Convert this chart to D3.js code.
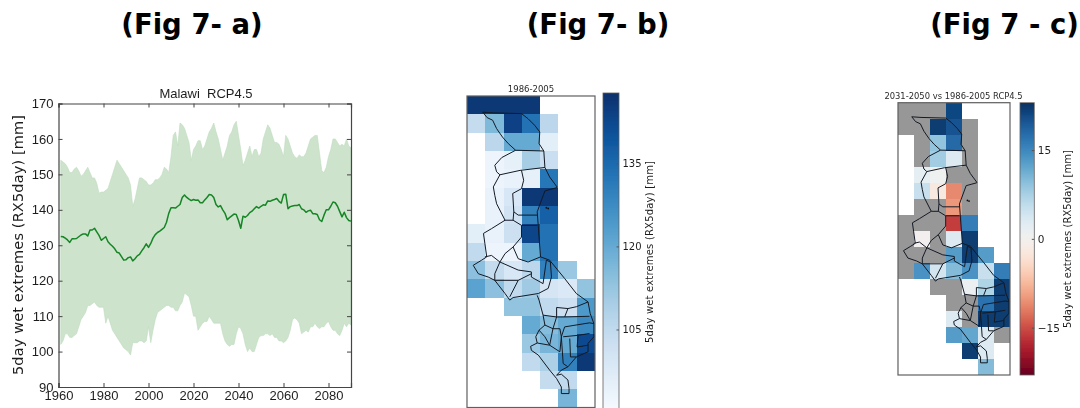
<!DOCTYPE html>
<html>
<head>
<meta charset="utf-8">
<script src="https://cdn.jsdelivr.net/npm/d3@7"></script>
<style>
  html, body { margin: 0; padding: 0; background: #fff; overflow: hidden; }
  svg { display: block; font-family: "DejaVu Sans", sans-serif; }
</style>
</head>
<body>
<div id="chart"></div>
<script>
const figTitles = ["(Fig 7- a)", "(Fig 7- b)", "(Fig 7 - c)"]
const yLabel = "5day wet extremes (RX5day) [mm]"

const years = d3.range(1961, 2091)
const yTicks = [90, 100, 110, 120, 130, 140, 150, 160, 170]
const xTicks = [1960, 1980, 2000, 2020, 2040, 2060, 2080]

const upper = [
  154,153.5,153,152,150.5,150.5,151.5,152,151,149.5,
  150,151,152,150.5,149,149,147.5,144.7,145,145,
  145.5,146,148,150,152,154,153,152,151,150,
  149,147,141,143,146,149,149,148.5,148,147,
  147,147.5,148.5,148.5,149,150,152,151.5,150.5,155,
  161,162,158,164.5,164,163,161,159,154,157,
  158,159.5,159.5,157,158,160,162,163,164.5,162,
  160,157,154,156,158,161,162,164,165,161,
  157,152.5,154,156,158,155,157,157,155,156,
  160,162,164,163,161,159,159,158.5,157,155,
  161,160,158,156,155,154.5,155.5,155,155,156,
  158,160,160.5,161,161,156,151,150.5,152,155,
  157,160,160,159,158,158.5,158,160,158,157.5
]
const lower = [
  102,103,105,105,104,104,104.5,105,107,109,
  110,111,113,113,113.5,114,113,112.5,112.5,112.5,
  108,110,108,106,105,104,103,102,101,100.5,
  100,99,102.5,102.5,102.5,103,103,102.5,103,107,
  102.5,106,109,111,111.5,112,112.5,113,113,112.5,
  112.5,111.5,111.5,113,114,116.5,116,115.5,113,110,
  110,106,107,108,108.5,108.5,110,109,108,108,
  108,108,105,103,102,101.5,102,102,105,107,
  106.5,105,102,100,101,100,100,102,104,104.5,
  104.5,105,105,104.5,105,104,104,103,103,102.5,
  103,104,106,109,109.5,109,108,105,105.5,106,
  105.5,107,107,108,107,106.5,107,107,108,108.5,
  107,106,106,105,104.5,106,108,107,108,107.5
]
const meanLine = [
  132.5,132.4,132,131.5,130.8,131.8,131.8,131.9,132.4,132.9,
  133.2,133.2,132.6,134.3,134.3,134.8,133.8,132.8,131.4,131.9,
  132.4,131,130.3,129.7,129,128,127.8,126.8,125.8,125.9,
  126.5,126.7,125.6,126.2,127,127.4,128.4,129.3,130.4,129.4,
  130.5,132,133,133.6,134,134.5,135,136.5,139,140.6,
  140.6,140.5,141,141.5,143.5,144.2,143.5,143,142.6,142.9,
  142.7,142.8,142,142,142.8,143.5,144.3,144.2,143.5,141.5,
  140.8,141.2,140,139,137.2,137.8,138.3,138.8,138.7,137,
  134.8,138.2,137.9,138.4,139.2,139.6,140.3,140.9,140.5,141,
  141.4,141.3,142.5,142.4,142.7,142.9,143.2,142.4,141.9,144.3,
  144.4,140.3,140.9,141.1,141.2,141.2,141.5,140.3,140,139.3,
  139.7,139.9,138.9,138.9,138.7,137.2,136.7,138.5,140,140,
  141,142.2,142,141,139.5,138,139.3,137.8,137,136.8
]

// half degree grid, rows north to south. null = no cell, NaN = masked (grey)
const gridLons = d3.range(32.5, 36, 0.5)
const gridLats = d3.range(-9, -17.5, -0.5)
const _ = null, M = NaN

const baseline = [
  [146,146,146,146,_,_,_],
  [104,116,144,133,106,_,_],
  [_,106,120,120,96,_,_],
  [_,93,95,110,103,_,_],
  [_,93,94,95,132,_,_],
  [_,94,99,146,146,_,_],
  [_,94,101,130,137,_,_],
  [96,94,102,143,133,_,_],
  [105,93,93,120,133,_,_],
  [114,104,99,106,130,112,_],
  [122,114,105,111,100,98,113],
  [_,_,113,113,105,102,124],
  [_,_,_,120,115,120,128],
  [_,_,_,112,117,120,142],
  [_,_,_,105,109,130,146],
  [_,_,_,_,104,105,_],
  [_,_,_,_,_,117,_]
]
const change = [
  [M,M,M,21,_,_,_],
  [M,M,22,20,M,_,_],
  [_,M,9,18,M,_,_],
  [_,M,8,3,M,_,_],
  [_,2,0.5,M,M,_,_],
  [_,5,-2,-11,M,_,_],
  [_,M,M,-10,M,_,_],
  [M,M,M,-16,16,_,_],
  [M,0,M,3,22,_,_],
  [M,M,M,13,22,13,_],
  [M,14,4,10,14,5,16],
  [_,_,M,M,1,7,22],
  [_,_,_,M,M,17,22],
  [_,_,_,3,M,22,22],
  [_,_,_,13,12,3,M],
  [_,_,_,_,22,3,_],
  [_,_,_,_,_,10,_]
]

const blueTicks = [105, 120, 135]
const changeTicks = [-15, 0, 15]

// district and border lines, [lon, lat]
const borders = [
  [[32.93,-9.44],[33.05,-9.59],[33.20,-9.66],[33.31,-9.89],[33.47,-10.12],[33.63,-10.30],[33.83,-10.48],[34.60,-10.50]],
  [[32.93,-9.44],[33.22,-9.46],[33.99,-9.48],[34.17,-9.62],[34.35,-9.80],[34.49,-9.98],[34.47,-10.30],[34.60,-10.50],[34.63,-10.95],[34.76,-11.21],[34.96,-11.48],[34.96,-11.50],[34.63,-11.59],[34.42,-12.16],[34.45,-12.57],[34.51,-13.39]],
  [[33.83,-10.48],[33.45,-10.68],[33.26,-10.89],[33.31,-11.07],[33.40,-11.15],[33.22,-11.48],[33.26,-11.71],[33.31,-11.94],[33.54,-12.39],[33.17,-12.62],[32.95,-12.75],[32.99,-13.03],[33.04,-13.39],[32.90,-13.48],[32.67,-13.62],[32.81,-13.85],[33.08,-13.94],[33.26,-14.03],[33.54,-14.39],[33.67,-14.57]],
  [[33.40,-11.15],[33.95,-11.03],[34.63,-10.95]],
  [[33.99,-11.03],[34.05,-11.30],[33.99,-11.53],[33.75,-11.66],[33.78,-12.16],[33.90,-12.25],[34.42,-12.25]],
  [[33.78,-12.16],[33.76,-12.39],[33.99,-12.53],[34.42,-12.53]],
  [[33.54,-12.39],[33.76,-12.39]],
  [[33.99,-12.53],[33.99,-12.85],[33.76,-13.12],[33.54,-13.30],[33.40,-13.53],[33.26,-13.85],[33.26,-14.03]],
  [[33.76,-13.12],[33.90,-13.44],[34.17,-13.53],[34.51,-13.39]],
  [[33.40,-13.53],[33.90,-13.75],[34.26,-13.80],[34.26,-13.94],[34.58,-14.12],[34.67,-13.48]],
  [[33.26,-14.03],[33.90,-14.03],[34.26,-13.85]],
  [[33.90,-14.03],[33.67,-14.48]],
  [[32.99,-13.39],[33.17,-13.35],[33.40,-13.53]],
  [[33.67,-14.57],[33.76,-14.50],[34.45,-14.39],[34.72,-14.25],[34.81,-13.94],[34.78,-13.53],[34.67,-13.48]],
  [[34.51,-13.39],[34.76,-13.48],[35.17,-13.98],[35.49,-14.39],[35.81,-14.62],[35.87,-14.94],[35.97,-15.21],[35.97,-15.57],[35.81,-15.75],[35.81,-15.98],[35.49,-16.12],[35.26,-16.39],[35.08,-16.48],[34.95,-16.62],[35.08,-16.59],[35.26,-16.75],[35.29,-16.98],[35.29,-17.12],[35.08,-17.12],[35.08,-16.94],[34.95,-16.71],[34.76,-16.48],[34.45,-16.07],[34.26,-15.94],[34.24,-15.83],[34.42,-15.74],[34.38,-15.57],[34.47,-15.39],[34.63,-15.25],[34.58,-14.98],[34.47,-14.57],[34.42,-14.44]],
  [[34.58,-14.98],[34.95,-15.03],[34.95,-14.77],[35.26,-14.80],[35.49,-14.75],[35.81,-14.62]],
  [[34.95,-15.03],[34.85,-15.35],[34.63,-15.25]],
  [[35.26,-14.80],[35.17,-15.03],[34.95,-15.03]],
  [[35.17,-15.03],[35.85,-15.01]],
  [[34.85,-15.35],[35.04,-15.35],[35.08,-15.57],[35.17,-15.30],[35.85,-15.19],[35.97,-15.21]],
  [[34.42,-15.74],[34.76,-15.80],[34.85,-15.35]],
  [[34.76,-15.80],[35.04,-15.98],[35.08,-15.57],[35.13,-16.30],[35.26,-16.39]],
  [[35.13,-15.57],[35.54,-15.53],[35.51,-15.85],[35.81,-15.80]],
  [[35.31,-15.62],[35.33,-16.12],[35.49,-16.12]],
  [[35.54,-15.53],[35.85,-15.48]],
  [[34.47,-15.39],[34.63,-15.57],[34.76,-15.80]]
]
const islands = [[34.67,-12.05],[34.72,-12.07]]

const width = 1080, height = 408
const textColor = "#1f1f1f", frameColor = "#5f5f5f"

const svg = d3.select("#chart").append("svg")
  .attr("width", width).attr("height", height)

const defs = svg.append("defs")
defs.append("filter").attr("id", "soft")
  .attr("filterUnits", "userSpaceOnUse")
  .attr("x", 0).attr("y", 0).attr("width", width).attr("height", height)
  .append("feGaussianBlur").attr("stdDeviation", 0.55)

svg.selectAll("text.fig")
  .data(figTitles)
  .join("text")
  .attr("class", "fig")
  .attr("x", (d, i) => [192, 598, 1004.5][i])
  .attr("y", 34)
  .attr("text-anchor", "middle")
  .attr("font-size", 27.5)
  .attr("font-weight", "bold")
  .attr("fill", "#000")
  .text(d => d)

const soft = svg.append("g").attr("filter", "url(#soft)")

// panel a
const a = {left: 58.5, right: 351, top: 103.5, bottom: 387}
const x = d3.scaleLinear().domain([1960, 2090]).range([a.left, a.right])
const y = d3.scaleLinear().domain([90, 170]).range([a.bottom, a.top])

const band = d3.area()
  .x((d, i) => x(years[i]))
  .y0((d, i) => y(lower[i]))
  .y1((d, i) => y(upper[i]))

const line = d3.line()
  .x((d, i) => x(years[i]))
  .y(d => y(d))

const pa = soft.append("g")
pa.append("path").datum(upper)
  .attr("fill", "#cde3cc")
  .attr("stroke", "#bfdcbf").attr("stroke-width", 0.6)
  .attr("d", band)
pa.append("path").datum(meanLine)
  .attr("fill", "none")
  .attr("stroke", "#158525")
  .attr("stroke-width", 1.5)
  .attr("stroke-linejoin", "round")
  .attr("d", line)

let xAxis = g => g
  .attr("transform", `translate(0,${a.bottom})`)
  .call(d3.axisBottom(x).tickValues(xTicks).tickFormat(d3.format("d")).tickSize(-4).tickPadding(4))
let xAxisTop = g => g
  .attr("transform", `translate(0,${a.top})`)
  .call(d3.axisTop(x).tickValues(xTicks).tickFormat("").tickSize(-4))
let yAxis = g => g
  .attr("transform", `translate(${a.left},0)`)
  .call(d3.axisLeft(y).tickValues(yTicks).tickSize(-4).tickPadding(5))
let yAxisRight = g => g
  .attr("transform", `translate(${a.right},0)`)
  .call(d3.axisRight(y).tickValues(yTicks).tickFormat("").tickSize(-4))

for (const ax of [xAxis, xAxisTop, yAxis, yAxisRight]) {
  const g = pa.append("g").call(ax)
  g.selectAll("text").attr("fill", textColor).attr("font-family", "'Liberation Sans', sans-serif").attr("font-size", 13)
  g.selectAll("line").attr("stroke", "#444")
  g.select(".domain").attr("stroke", "#444").attr("stroke-width", 1.2)
}

pa.append("text")
  .attr("x", 206).attr("y", 98)
  .attr("text-anchor", "middle")
  .attr("font-family", "'Liberation Sans', sans-serif")
  .attr("font-size", 13)
  .attr("fill", textColor)
  .attr("xml:space", "preserve")
  .text("Malawi  RCP4.5")

pa.append("text")
  .attr("transform", "translate(23,245) rotate(-90)")
  .attr("text-anchor", "middle")
  .attr("font-size", 14.5)
  .attr("textLength", 260)
  .attr("fill", textColor)
  .text(yLabel)

// panels b and c
const noColor = "#979797"
const blues = d3.scaleSequential(d3.interpolateBlues).domain([90, 147.7])
const rdbu = d3.scaleSequential(d3.interpolateRdBu).domain([-23, 23])

function drawMap (box) {
  const lonScale = d3.scaleLinear().domain([32.5, 36]).range([box.left, box.right])
  const latScale = d3.scaleLinear().domain([-9, -17.5]).range([box.top, box.bottom])
  const g = soft.append("g")

  const cells = box.grid.flatMap((row, r) => row.map((v, c) => ({v, r, c})))
    .filter(d => d.v !== null)

  g.selectAll("rect.cell")
    .data(cells)
    .join("rect")
    .attr("class", "cell")
    .attr("shape-rendering", "crispEdges")
    .attr("x", d => lonScale(gridLons[d.c]))
    .attr("y", d => latScale(gridLats[d.r]))
    .attr("width", lonScale(33) - lonScale(32.5))
    .attr("height", latScale(-9.5) - latScale(-9))
    .attr("fill", d => isNaN(d.v) ? noColor : box.color(d.v))

  const path = d3.line().x(d => lonScale(d[0])).y(d => latScale(d[1]))
  g.selectAll("path.border")
    .data(borders)
    .join("path")
    .attr("class", "border")
    .attr("fill", "none")
    .attr("stroke", "#141a24")
    .attr("stroke-width", 1)
    .attr("stroke-linejoin", "round")
    .attr("d", path)

  g.selectAll("circle")
    .data(islands)
    .join("circle")
    .attr("cx", d => lonScale(d[0]))
    .attr("cy", d => latScale(d[1]))
    .attr("r", 0.9)
    .attr("fill", "#111")

  g.append("rect")
    .attr("x", box.left).attr("y", box.top)
    .attr("width", box.right - box.left)
    .attr("height", box.bottom - box.top)
    .attr("fill", "none")
    .attr("stroke", frameColor)
    .attr("stroke-width", 1.2)

  g.append("text")
    .attr("x", box.titleX).attr("y", box.titleY)
    .attr("text-anchor", "middle")
    .attr("font-size", box.titleSize)
    .attr("fill", "#2a2a2a")
    .text(box.title)

  // colorbar, one pixel strips
  const cb = box.bar
  const cy = d3.scaleLinear().domain(cb.domain).range([cb.bottom, cb.top])
  const steps = d3.range(Math.ceil(cb.top), Math.floor(cb.bottom))
  g.selectAll("rect.step")
    .data(steps)
    .join("rect")
    .attr("class", "step")
    .attr("shape-rendering", "crispEdges")
    .attr("x", cb.left)
    .attr("y", d => d)
    .attr("width", cb.right - cb.left)
    .attr("height", 1)
    .attr("fill", d => box.color(cy.invert(d + 0.5)))

  const axis = g.append("g")
    .attr("transform", `translate(${cb.right},0)`)
    .call(d3.axisRight(cy).tickValues(cb.ticks).tickSize(-2.5).tickPadding(3.5))
    .call(g => g.select(".domain").remove())
  axis.selectAll("text")
    .attr("font-family", "'DejaVu Sans', sans-serif")
    .attr("font-size", cb.fontSize)
    .attr("fill", textColor)
  axis.selectAll("line").attr("stroke", "#555")

  g.append("rect")
    .attr("x", cb.left).attr("y", cb.top)
    .attr("width", cb.right - cb.left)
    .attr("height", cb.bottom - cb.top)
    .attr("fill", "none")
    .attr("stroke", frameColor)
    .attr("stroke-width", 0.8)

  g.append("text")
    .attr("transform", `translate(${cb.labelX},${cb.labelY}) rotate(-90)`)
    .attr("text-anchor", "middle")
    .attr("font-size", 10)
    .attr("textLength", cb.labelLength)
    .attr("fill", textColor)
    .text(yLabel)
}

drawMap({
  left: 467, right: 595, top: 96, bottom: 407.5,
  grid: baseline, color: blues,
  title: "1986-2005", titleX: 531, titleY: 92, titleSize: 8.5,
  bar: {left: 603, right: 619, top: 93, bottom: 412, domain: [90.1, 147.7], ticks: blueTicks,
        fontSize: 10, labelX: 653, labelY: 252, labelLength: 182}
})

drawMap({
  left: 898, right: 1010, top: 102.7, bottom: 375,
  grid: change, color: rdbu,
  title: "2031-2050 vs 1986-2005 RCP4.5", titleX: 953.5, titleY: 99, titleSize: 8.4,
  bar: {left: 1020, right: 1034.3, top: 102.7, bottom: 375, domain: [-23, 23], ticks: changeTicks,
        fontSize: 10.5, labelX: 1071, labelY: 239, labelLength: 178}
})
</script>
</body>
</html>
